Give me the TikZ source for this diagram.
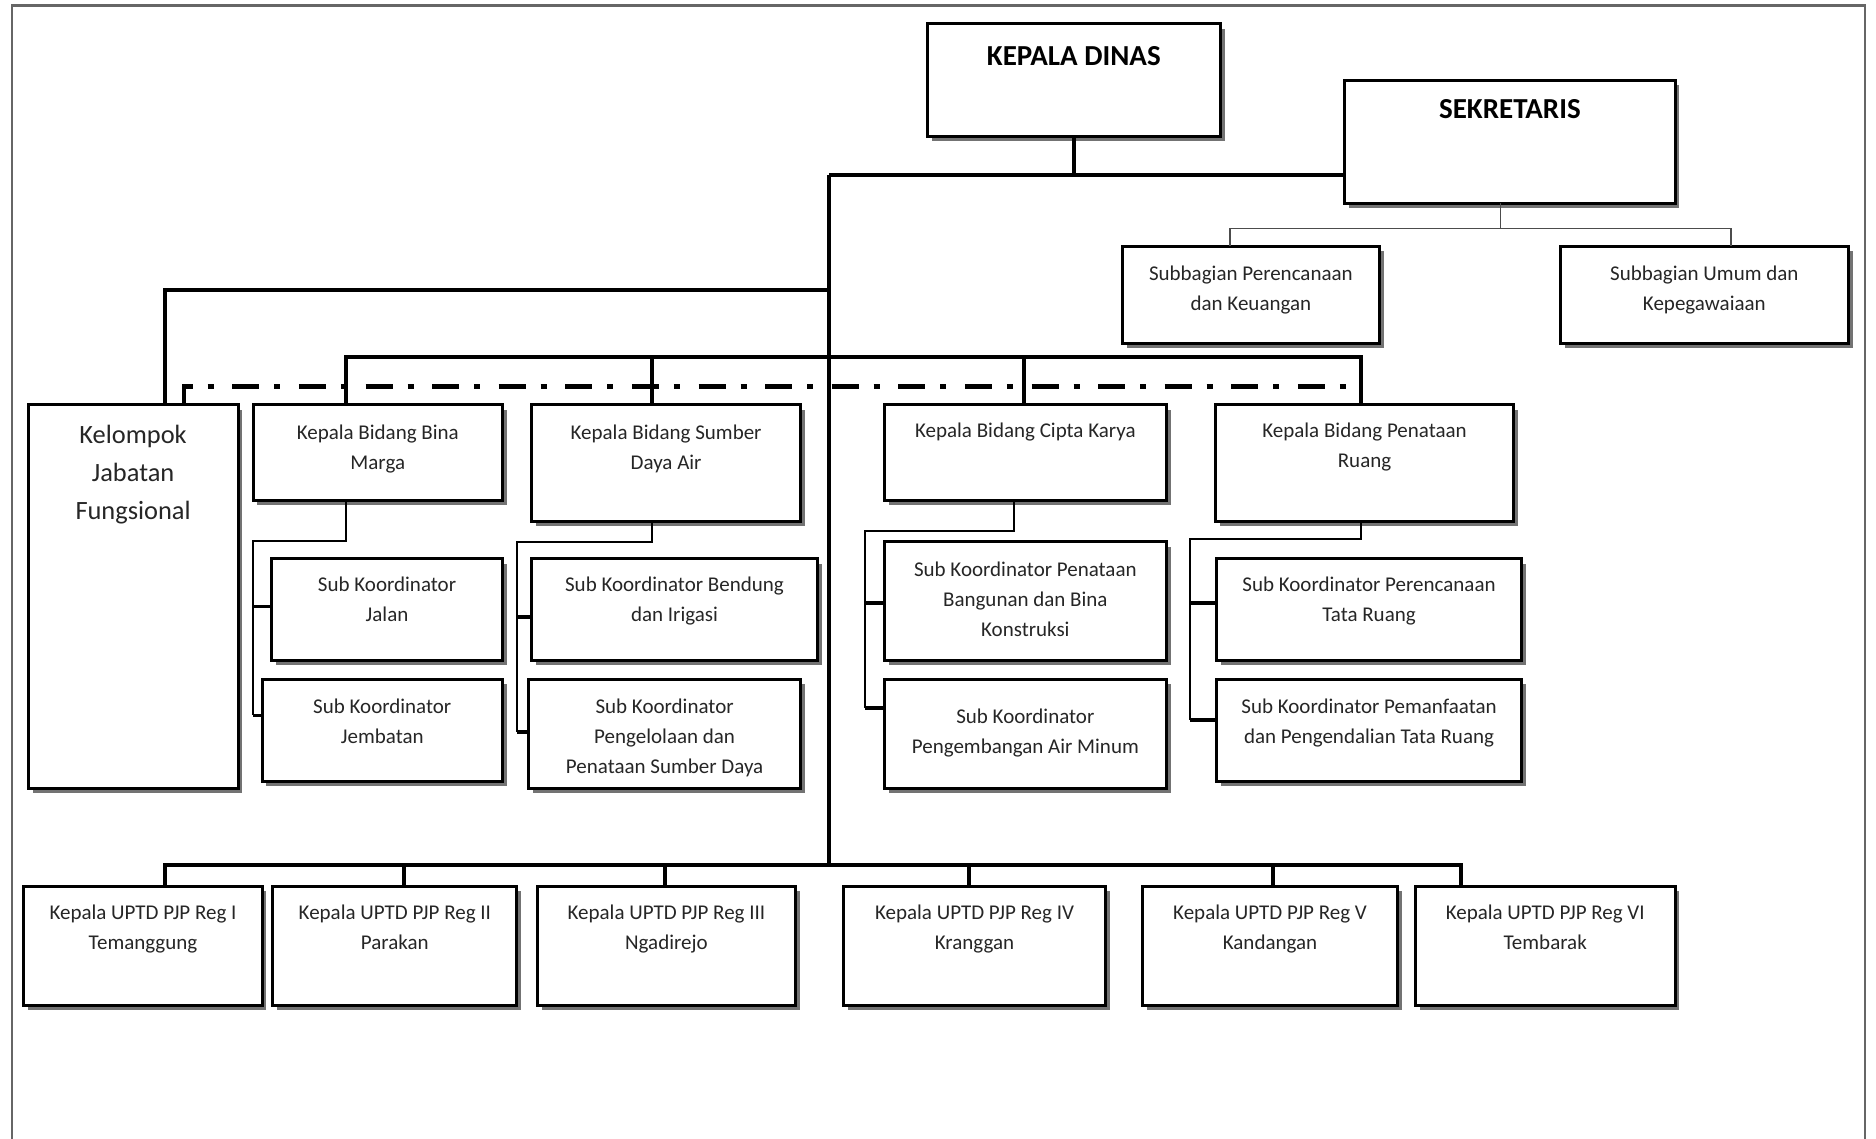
\documentclass[tikz,border=0pt]{standalone}
\usepackage{fontspec}
\setmainfont{Carlito}
\usetikzlibrary{fit,shadows}
\tikzset{
 obox/.style={draw=black, line width=1.5pt, fill=white, inner sep=0pt, outer sep=0pt,
   drop shadow={shadow xshift=2.2pt, shadow yshift=-2.4pt, fill=black!55, opacity=1}},
 txt/.style={align=center, inner sep=0pt, text=black!85, font=\fontsize{10.5}{15}\selectfont},
 ttl/.style={align=center, inner sep=0pt, text=black, font=\fontsize{14.5}{17}\selectfont\bfseries},
 big/.style={align=center, inner sep=0pt, text=black!85, font=\fontsize{13.2}{19}\selectfont},
 main/.style={line width=2pt},
 tree/.style={line width=1pt},
 stub/.style={line width=1.8pt},
 sekline/.style={line width=0.8pt, draw=black!70},
 dashdotline/.style={line width=2.2pt, dash pattern=on 13.5pt off 7.5pt on 3pt off 9.3pt},
 frameline/.style={draw=black!60, line width=1.2pt}
}
\newcommand{\orgbox}[8]{%
  \node[obox, fit={(#2,#3) (#4,#5)}] (#1) {};
  \node[#7] (#1-t) at ({(#2+#4)/2},#6) {#8\vphantom{gK}};
}
\begin{document}
\begin{tikzpicture}[x=0.5982pt, y=-0.5982pt]
\useasboundingbox (0,0) rectangle (1568,952);
\draw[frameline] (10,952) -- (10,4.5) -- (1559,4.5) -- (1559,952);

% boxes
\orgbox{kd}{775}{20}{1020}{114}{49}{ttl}{KEPALA DINAS}
\orgbox{sek}{1124}{67}{1400}{170}{93}{ttl}{SEKRETARIS}
\orgbox{sbp}{938}{206}{1153}{287}{242}{txt}{Subbagian Perencanaan\\dan Keuangan}
\orgbox{sbu}{1304}{206}{1545}{287}{242}{txt}{Subbagian Umum dan\\Kepegawaiaan}
\orgbox{kjf}{23.5}{338.5}{199}{659}{397}{big}{Kelompok\\Jabatan\\Fungsional}
\orgbox{bm}{211.5}{338.5}{420}{418}{375}{txt}{Kepala Bidang Bina\\Marga}
\orgbox{sda}{444.5}{338.5}{669}{435.5}{375}{txt}{Kepala Bidang Sumber\\Daya Air}
\orgbox{ck}{739}{338.5}{975}{418}{361}{txt}{Kepala Bidang Cipta Karya}
\orgbox{pr}{1016}{338.5}{1265}{435.5}{374}{txt}{Kepala Bidang Penataan\\Ruang}
\orgbox{jln}{227}{467}{420}{552}{502.5}{txt}{Sub Koordinator\\Jalan}
\orgbox{jmb}{219}{568}{420}{653}{604}{txt}{Sub Koordinator\\Jembatan}
\orgbox{bdg}{444.5}{467}{683}{552}{502.5}{txt}{Sub Koordinator Bendung\\dan Irigasi}
\orgbox{pgl}{442}{568}{669}{659}{617}{txt}{Sub Koordinator\\Pengelolaan dan\\Penataan Sumber Daya}
\orgbox{pbb}{739}{453}{975}{552}{502}{txt}{Sub Koordinator Penataan\\Bangunan dan Bina\\Konstruksi}
\orgbox{pam}{739}{568}{975}{659}{612.5}{txt}{Sub Koordinator\\Pengembangan Air Minum}
\orgbox{ptr}{1016.5}{467}{1272}{552}{502.5}{txt}{Sub Koordinator Perencanaan\\Tata Ruang}
\orgbox{pmf}{1016.5}{568}{1272}{653}{604}{txt}{Sub Koordinator Pemanfaatan\\dan Pengendalian Tata Ruang}
\orgbox{u1}{20}{741}{219}{840}{776.5}{txt}{Kepala UPTD PJP Reg I\\Temanggung}
\orgbox{u2}{228}{741}{432}{840}{776.5}{txt}{Kepala UPTD PJP Reg II\\Parakan}
\orgbox{u3}{449}{741}{665}{840}{776.5}{txt}{Kepala UPTD PJP Reg III\\Ngadirejo}
\orgbox{u4}{705}{741}{924}{840}{776.5}{txt}{Kepala UPTD PJP Reg IV\\Kranggan}
\orgbox{u5}{955}{741}{1168}{840}{776.5}{txt}{Kepala UPTD PJP Reg V\\Kandangan}
\orgbox{u6}{1183}{741}{1400}{840}{776.5}{txt}{Kepala UPTD PJP Reg VI\\Tembarak}

% main trunk
\coordinate (tTop) at (693,146);
\coordinate (tBot) at (693,723);
\draw[main] (tTop) -- (tBot);
\draw[main] (kd.south) -- (kd.south |- tTop);
\draw[main] (tTop) -- (tTop -| sek.west);
\coordinate (kjfJ) at (693,242);
\draw[main] (kjfJ) -| (137.5,0 |- kjf.north);

% bidang bus
\draw[main] (289,0 |- bm.north) |- (1137.5,298) -- (1137.5,0 |- pr.north);
\draw[main] (545,298) -- (545,0 |- sda.north);
\draw[main] (856,298) -- (856,0 |- ck.north);
\draw[dashdotline] (154,0 |- kjf.north) |- (1137.5,323);

% sekretaris
\draw[sekline] (1254,0 |- sek.south) -- (1254,191);
\draw[sekline] (1028,0 |- sbp.north) |- (1447,191) -- (1447,0 |- sbu.north);

% sub trees
\draw[tree] (289,0 |- bm.south) |- (211.5,452) -- (211.5,598);
\draw[stub] (211.5,507) -- (jln.west |- 0,507);
\draw[stub] (211.5,598) -- (jmb.west |- 0,598);

\draw[tree] (545,0 |- sda.south) |- (432,453) -- (432,612);
\draw[stub] (432,515.5) -- (bdg.west |- 0,515.5);
\draw[stub] (432,612) -- (pgl.west |- 0,612);

\draw[tree] (847.5,0 |- ck.south) |- (723,444) -- (723,592);
\draw[stub] (723,504) -- (pbb.west |- 0,504);
\draw[stub] (723,592) -- (pam.west |- 0,592);

\draw[tree] (1137.5,0 |- pr.south) |- (995,450.5) -- (995,602);
\draw[stub] (995,504) -- (ptr.west |- 0,504);
\draw[stub] (995,602) -- (pmf.west |- 0,602);

% UPTD bus
\draw[main] (137.5,0 |- u1.north) |- (1221,723) -- (1221,0 |- u6.north);
\draw[main] (338,723) -- (338,0 |- u2.north);
\draw[main] (556,723) -- (556,0 |- u3.north);
\draw[main] (810,723) -- (810,0 |- u4.north);
\draw[main] (1064,723) -- (1064,0 |- u5.north);
\end{tikzpicture}
\end{document}
